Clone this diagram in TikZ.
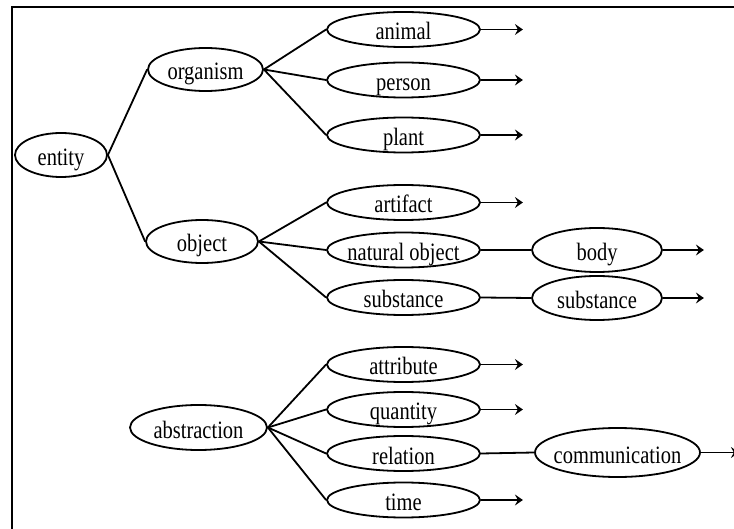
\documentclass[tikz,border=0pt]{standalone}
\usepackage{fontspec}
\setmainfont{Liberation Serif}[FakeStretch=0.82]
\usetikzlibrary{shapes.geometric,arrows.meta}
\newcommand\tx[1]{\makebox[0pt]{#1}}
\begin{document}
\begin{tikzpicture}[x=1pt,y=-1pt,
  ell/.style={draw, ellipse, line width=1.8pt, inner sep=0pt, text height=21pt, text depth=0pt,
    font=\fontsize{25}{30}\selectfont},
  midell/.style={ell, minimum width=153pt, minimum height=35pt},
  link/.style={line width=1.8pt},
  arr/.style={line width=1.8pt, -{Stealth[length=8pt,width=11pt,inset=3pt]}}]
\useasboundingbox (0,0) rectangle (734,529);
\draw[line width=2pt] (12,530) -- (12,7) -- (735,7);

\node[ell, minimum width=92pt, minimum height=44pt] (entity) at (61,155) {\tx{entity}};
\node[ell, minimum width=115pt, minimum height=43pt] (organism) at (205.5,69.5) {\tx{organism}};
\node[ell, minimum width=112pt, minimum height=43pt] (object) at (202,241.5) {\tx{object}};
\node[ell, minimum width=137pt, minimum height=45pt] (abstraction) at (198.5,427.5) {\tx{abstraction}};

\node[midell] (animal) at (403.5,29.5) {\tx{animal}};
\node[midell] (person) at (403.5,80) {\tx{person}};
\node[midell] (plant) at (403.5,135) {\tx{plant}};
\node[midell] (artifact) at (403.5,202.5) {\tx{artifact}};
\node[midell] (natobj) at (403.5,250) {\tx{natural object}};
\node[midell] (subst) at (403.5,297.5) {\tx{substance}};
\node[midell] (attribute) at (403.5,364.5) {\tx{attribute}};
\node[midell] (quantity) at (403.5,409.5) {\tx{quantity}};
\node[midell] (relation) at (403.5,453.5) {\tx{relation}};
\node[midell] (time) at (403.5,500) {\tx{time}};

\node[ell, minimum width=130pt, minimum height=44pt] (body) at (597,250) {\tx{body}};
\node[ell, minimum width=130pt, minimum height=44pt] (subst2) at (597,298) {\tx{substance}};
\node[ell, minimum width=165pt, minimum height=49pt] (comm) at (617.5,452.5) {\tx{communication}};

\draw[link] (entity.east) -- (organism.west);
\draw[link] (entity.east) -- (object.west);
\foreach \c in {animal,person,plant} \draw[link] (organism.east) -- (\c.west);
\foreach \c in {artifact,natobj,subst} \draw[link] (object.east) -- (\c.west);
\foreach \c in {attribute,quantity,relation,time} \draw[link] (abstraction.east) -- (\c.west);
\draw[link] (natobj.east) -- (body.west);
\draw[link] (subst.east) -- (subst2.west);
\draw[link] (relation.east) -- (comm.west);

\foreach \c in {animal,person,plant,artifact,attribute,quantity,time}
  \draw[arr] (\c.east) -- ++(42,0);
\draw[arr] (body.east) -- ++(41,0);
\draw[arr] (subst2.east) -- ++(41,0);
\draw[arr] (comm.east) -- ++(38,0);
\end{tikzpicture}
\end{document}
